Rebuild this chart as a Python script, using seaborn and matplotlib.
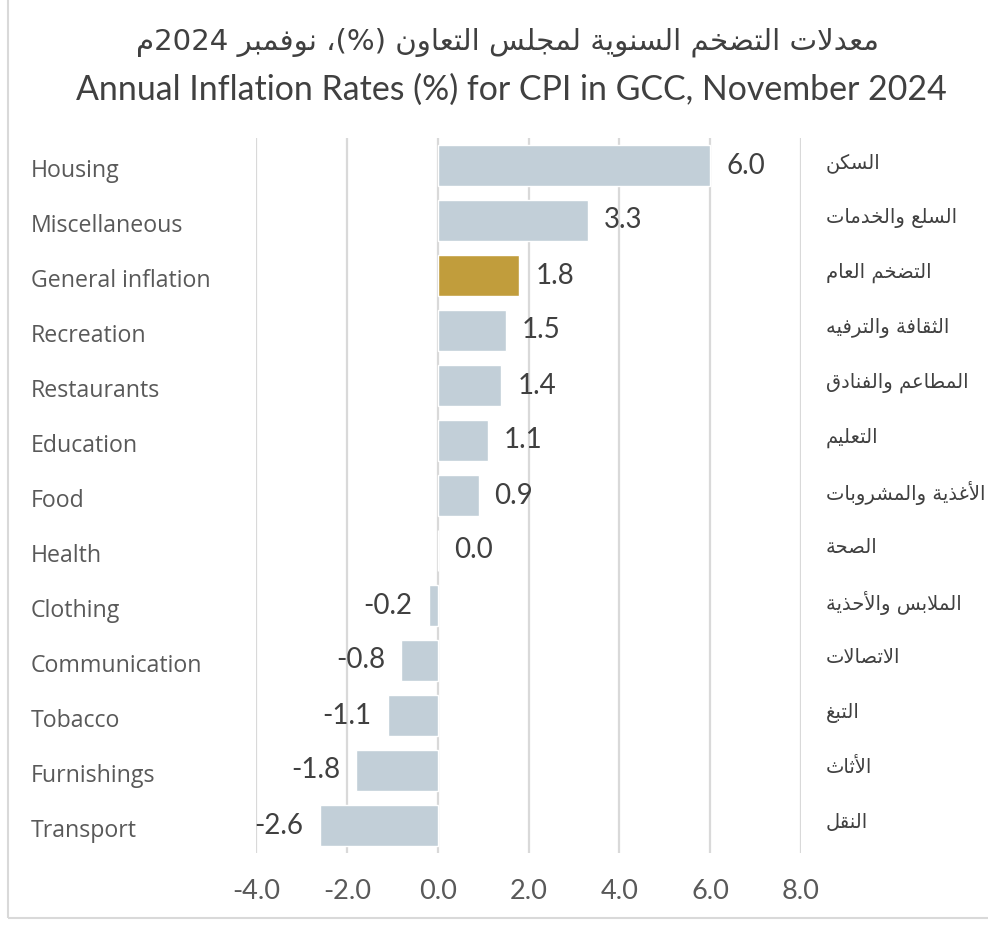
import re
import numpy as np
import pandas as pd
import matplotlib
matplotlib.use("Agg")
import matplotlib.pyplot as plt
import seaborn as sns
from matplotlib.patches import Rectangle
from matplotlib.transforms import blended_transform_factory

# ---------------- data ----------------
categories_en = ["Housing", "Miscellaneous", "General inflation", "Recreation",
                 "Restaurants", "Education", "Food", "Health", "Clothing",
                 "Communication", "Tobacco", "Furnishings", "Transport"]
categories_ar = ["السكن", "السلع والخدمات", "التضخم العام", "الثقافة والترفيه",
                 "المطاعم والفنادق", "التعليم", "الأغذية والمشروبات", "الصحة",
                 "الملابس والأحذية", "الاتصالات", "التبغ", "الأثاث", "النقل"]
values = [6.0, 3.3, 1.8, 1.5, 1.4, 1.1, 0.9, 0.0, -0.2, -0.8, -1.1, -1.8, -2.6]
highlight = "General inflation"
x_ticks = [-4, -2, 0, 2, 4, 6, 8]
title_ar = "معدلات التضخم السنوية لمجلس التعاون (%)، نوفمبر 2024م"
title_en = "Annual Inflation Rates (%) for CPI in GCC, November 2024"

# ---------------- minimal Arabic shaping (presentation forms + visual order) ----------------
_RJ = set("آأؤإاةدذرزوى")
_FORMS = {}
_code = 0xFE80
for _ch in [chr(c) for c in range(0x0621, 0x063B)] + [chr(c) for c in range(0x0641, 0x064B)]:
    if _ch == "ء":
        _FORMS[_ch] = (chr(_code),)
        _code += 1
    elif _ch in _RJ:
        _FORMS[_ch] = (chr(_code), chr(_code + 1))
        _code += 2
    else:
        _FORMS[_ch] = tuple(chr(_code + k) for k in range(4))
        _code += 4
_LAM_ALEF = {"آ": (0xFEF5, 0xFEF6), "أ": (0xFEF7, 0xFEF8),
             "إ": (0xFEF9, 0xFEFA), "ا": (0xFEFB, 0xFEFC)}


def _joins_fwd(c):
    return c in _FORMS and c not in _RJ and c != "ء"


def _shape(text):
    out, chars, i = [], list(text), 0
    n = len(chars)
    while i < n:
        c = chars[i]
        if c not in _FORMS:
            out.append(c)
            i += 1
            continue
        jp = i > 0 and _joins_fwd(chars[i - 1])
        if c == "ل" and i + 1 < n and chars[i + 1] in _LAM_ALEF:
            iso, fin = _LAM_ALEF[chars[i + 1]]
            out.append(chr(fin if jp else iso))
            i += 2
            continue
        jn = _joins_fwd(c) and i + 1 < n and chars[i + 1] in _FORMS
        f = _FORMS[c]
        if len(f) == 1:
            out.append(f[0])
        elif len(f) == 2:
            out.append(f[1] if jp else f[0])
        else:
            out.append(f[3] if (jp and jn) else f[1] if jp else f[2] if jn else f[0])
        i += 1
    return "".join(out)


def ar(text):
    toks = re.findall(r"[0-9A-Za-z.]+|.", _shape(text))
    toks.reverse()
    mirror = {"(": ")", ")": "("}
    return "".join(mirror.get(t, t) for t in toks)


# ---------------- plot ----------------
sns.set_theme(style="white")
plt.rcParams["font.family"] = ["Lato", "DejaVu Sans"]
plt.rcParams["axes.unicode_minus"] = False

W, H = 988, 925
fig = plt.figure(figsize=(W / 100, H / 100), dpi=100)
fig.patch.set_facecolor("white")
ax = fig.add_axes([256 / W, 1 - 853 / H, 545 / W, 715 / H])

df = pd.DataFrame({"category": categories_en, "value": values})
df["group"] = np.where(df["category"] == highlight, "hl", "base")
palette = {"base": "#C2CFD8", "hl": "#C19D3C"}

sns.barplot(data=df, x="value", y="category", hue="group", palette=palette,
            orient="h", width=0.73, dodge=False, legend=False, saturation=1,
            ax=ax, order=categories_en, zorder=3)

ax.set_xlim(x_ticks[0], x_ticks[-1])
ax.set_xticks(x_ticks)
ax.set_xticklabels([f"{t:.1f}" for t in x_ticks], fontsize=19.5, color="#595959",
                   family=["Lato", "DejaVu Sans"])
ax.tick_params(axis="x", length=0, pad=19)
ax.set_yticks([])
ax.set_xlabel("")
ax.set_ylabel("")
for s in ax.spines.values():
    s.set_visible(False)
ax.grid(axis="x", color="#D9D9D9", linewidth=1.6, zorder=0)
ax.grid(axis="y", visible=False)
ax.set_axisbelow(True)

for cont in ax.containers:
    ax.bar_label(cont, fmt="{:.1f}", padding=11.5, fontsize=20, color="#404040",
                 family=["Lato", "DejaVu Sans"])

trans = blended_transform_factory(fig.transFigure, ax.transData)
for i, lab in enumerate(categories_en):
    ax.text(31 / W, i + 0.1, lab, transform=trans, ha="left", va="center",
            fontsize=16.7, color="#595959", family=["Open Sans", "DejaVu Sans"])

ar_texts = []
for i, lab in enumerate(categories_ar):
    t = ax.text(826 / W, i - 0.05, ar(lab), transform=trans, ha="left", va="center",
                fontsize=14, color="#404040", family=["DejaVu Sans"], clip_on=False)
    ar_texts.append(t)

t1 = fig.text(507 / W, 1 - 42 / H, ar(title_ar), ha="center", va="center",
              fontsize=22, color="#404040", family=["DejaVu Sans"])
t2 = fig.text(511.5 / W, 1 - 90 / H, title_en, ha="center", va="center",
              fontsize=22, color="#404040", family=["Lato", "DejaVu Sans"])

renderer = fig.canvas.get_renderer()
for t, target in ((t1, 743), (t2, 867)):
    w = t.get_window_extent(renderer).width
    t.set_fontsize(t.get_fontsize() * target / w)
w_ref = ar_texts[1].get_window_extent(renderer).width
scale = 132 / w_ref
for t in ar_texts:
    t.set_fontsize(t.get_fontsize() * scale)

fig.add_artist(Rectangle((8 / W, 7 / H), 1.5, 1.5, transform=fig.transFigure,
                         fill=False, edgecolor="#D9D9D9", linewidth=1.5))

fig.savefig("out.png", dpi=100, facecolor="white")
